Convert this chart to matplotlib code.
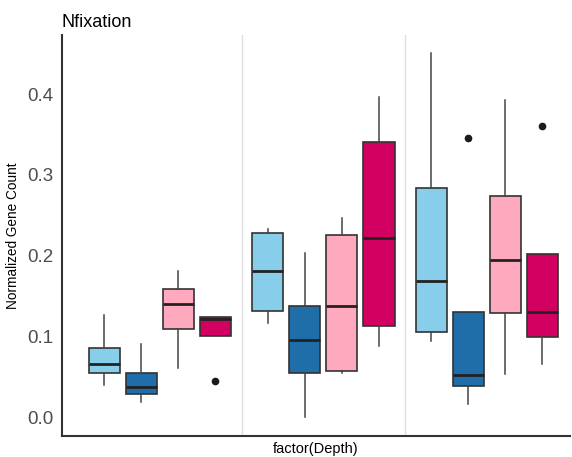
import matplotlib.pyplot as plt

plt.rcParams['font.family'] = ['Liberation Sans', 'DejaVu Sans']

# box summary stats per depth, four treatments each
depths = [1, 2, 3]
colors = ['#87CEEB', '#1F6EAA', '#FFA9BE', '#D10061']
offsets = [-0.34, -0.113, 0.113, 0.34]

whislo = [[0.040, 0.019, 0.061, 0.100],
          [0.117, 0.000, 0.054, 0.088],
          [0.094, 0.016, 0.053, 0.066]]
q1 = [[0.054, 0.028, 0.109, 0.100],
      [0.131, 0.054, 0.057, 0.113],
      [0.105, 0.038, 0.129, 0.099]]
med = [[0.066, 0.037, 0.140, 0.122],
       [0.181, 0.095, 0.138, 0.222],
       [0.169, 0.052, 0.195, 0.130]]
q3 = [[0.086, 0.055, 0.159, 0.124],
      [0.228, 0.138, 0.225, 0.341],
      [0.284, 0.130, 0.274, 0.202]]
whishi = [[0.126, 0.091, 0.181, 0.124],
          [0.233, 0.203, 0.247, 0.397],
          [0.451, 0.130, 0.393, 0.202]]
outliers = [[[], [], [], [0.044]],
            [[], [], [], []],
            [[], [0.346], [], [0.360]]]

fig = plt.figure(figsize=(5.72, 4.57), dpi=100)
ax = fig.add_axes([0.108, 0.046, 0.889, 0.877])

for gi, d in enumerate(depths):
    for k in range(4):
        stats = [dict(med=med[gi][k], q1=q1[gi][k], q3=q3[gi][k],
                      whislo=whislo[gi][k], whishi=whishi[gi][k],
                      fliers=outliers[gi][k])]
        ax.bxp(stats, positions=[d + offsets[k]], widths=0.19,
               patch_artist=True, showcaps=False,
               boxprops=dict(facecolor=colors[k], edgecolor='#333333', linewidth=1.2),
               medianprops=dict(color='#222222', linewidth=2),
               whiskerprops=dict(color='#444444', linewidth=1.1),
               flierprops=dict(marker='o', markerfacecolor='#1a1a1a',
                               markeredgecolor='#1a1a1a', markersize=4.5))

for xs in [1.5, 2.5]:
    ax.axvline(xs, color='#dddddd', linewidth=1, zorder=0)

ax.set_xlim(0.4, 3.51)
ax.set_ylim(-0.0235, 0.473)
ax.set_xticks([])
ax.set_yticks([0.0, 0.1, 0.2, 0.3, 0.4])
ax.set_yticklabels(['0.0', '0.1', '0.2', '0.3', '0.4'])
ax.tick_params(axis='y', length=0, labelsize=13.5, labelcolor='#4d4d4d', pad=6)

for s in ['top', 'right']:
    ax.spines[s].set_visible(False)
for s in ['left', 'bottom']:
    ax.spines[s].set_color('#333333')
    ax.spines[s].set_linewidth(1.5)

ax.set_ylabel('Normalized Gene Count', fontsize=9.8, labelpad=5)
ax.set_xlabel('factor(Depth)', fontsize=10.5, labelpad=4)
ax.set_title('Nfixation', loc='left', fontsize=13, pad=6)

fig.savefig('out.png', dpi=100)
